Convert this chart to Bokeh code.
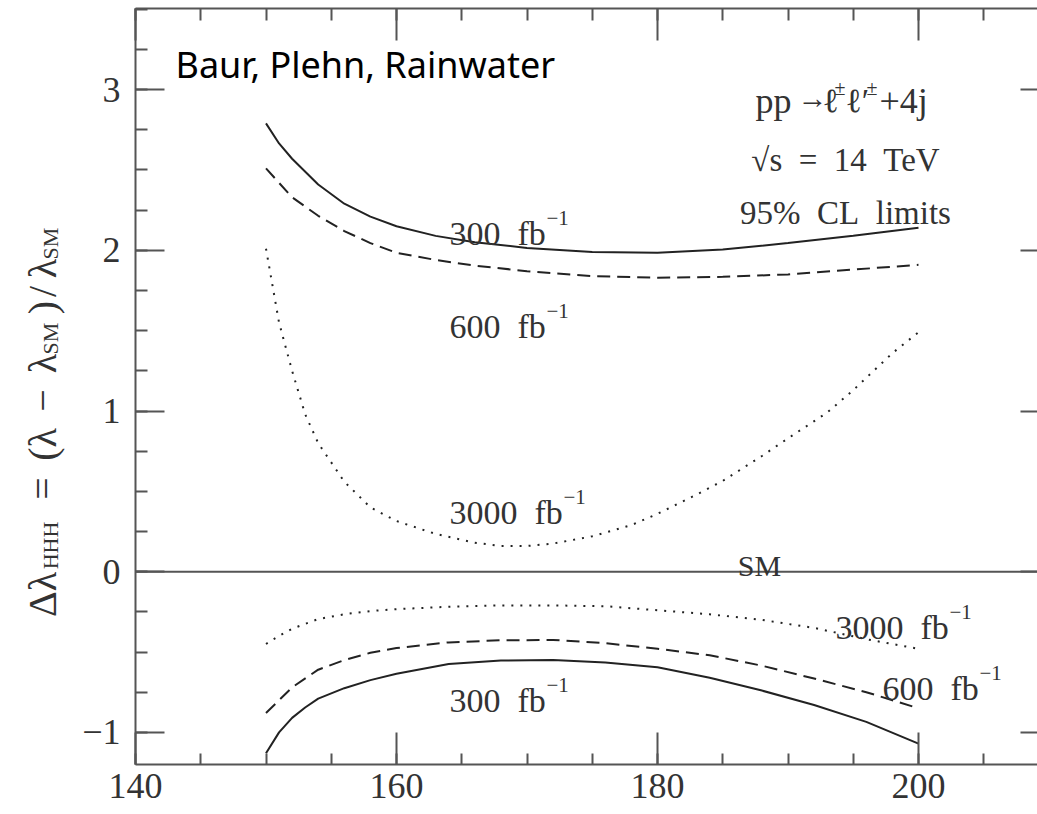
import math
from bokeh.plotting import figure
from bokeh.layouts import row
from bokeh.models import Range1d, LinearAxis, FixedTicker, Label, Span
from bokeh.core.properties import value
from bokeh.embed import file_html
from bokeh.resources import INLINE

# ---------------- data ----------------
x_300_up = [150, 151, 152, 154, 156, 158, 160, 163, 166, 170, 175, 180, 185, 190, 195, 200]
y_300_up = [2.79, 2.665, 2.57, 2.41, 2.29, 2.21, 2.15, 2.09, 2.05, 2.015, 1.99, 1.985, 2.005, 2.045, 2.09, 2.14]

x_600_up = [150, 151, 152, 154, 156, 158, 160, 163, 166, 170, 175, 180, 185, 190, 195, 200]
y_600_up = [2.51, 2.42, 2.33, 2.215, 2.12, 2.045, 1.985, 1.94, 1.905, 1.87, 1.84, 1.83, 1.835, 1.85, 1.88, 1.91]

x_3000_up = [150, 151, 152, 153, 154, 155, 156, 158, 160, 163, 166, 168, 170, 172, 175, 178, 180, 183, 185, 188, 190, 193, 195, 198, 200]
y_3000_up = [2.01, 1.55, 1.25, 0.98, 0.80, 0.68, 0.56, 0.40, 0.315, 0.235, 0.18, 0.16, 0.16, 0.175, 0.22, 0.29, 0.36, 0.48, 0.565, 0.72, 0.83, 0.99, 1.13, 1.36, 1.49]

x_300_lo = [150, 151, 152, 153, 154, 156, 158, 160, 164, 168, 172, 176, 180, 184, 188, 192, 196, 200]
y_300_lo = [-1.13, -1.0, -0.91, -0.845, -0.79, -0.725, -0.675, -0.635, -0.575, -0.553, -0.55, -0.565, -0.595, -0.66, -0.74, -0.83, -0.935, -1.07]

x_600_lo = [150, 151, 152, 154, 156, 158, 160, 164, 168, 172, 176, 180, 184, 188, 192, 196, 200]
y_600_lo = [-0.88, -0.80, -0.72, -0.61, -0.55, -0.505, -0.475, -0.44, -0.427, -0.425, -0.445, -0.48, -0.52, -0.585, -0.665, -0.75, -0.85]

x_3000_lo = [150, 151, 152, 154, 156, 158, 160, 164, 168, 172, 176, 180, 184, 188, 192, 196, 200]
y_3000_lo = [-0.45, -0.40, -0.355, -0.295, -0.265, -0.245, -0.233, -0.218, -0.21, -0.21, -0.215, -0.24, -0.265, -0.30, -0.35, -0.42, -0.48]

x_major_ticks = [140, 160, 180, 200]
x_minor_ticks = [140, 145, 150, 155, 160, 165, 170, 175, 180, 185, 190, 195, 200, 205, 210]
y_major_ticks = [-1, 0, 1, 2, 3]
y_minor_ticks = [-1.25, -1.0, -0.75, -0.5, -0.25, 0, 0.25, 0.5, 0.75, 1.0, 1.25, 1.5, 1.75, 2.0, 2.25, 2.5, 2.75, 3.0, 3.25, 3.5]
sm_level = 0

# ---------------- layout constants ----------------
LW = 75                    # width of the strip holding the rotated y title
FL, FT, FW, FH = 135, 8, 902, 756
FB = FT + FH
H = 814
AX = "#555555"
INK = "#222222"
TXT = "#333333"
SERIF = "Liberation Serif"

# ---------------- main figure ----------------
p = figure(frame_width=FW, frame_height=FH,
           x_range=Range1d(140, 140 + FW / 13.05), y_range=Range1d(-1.2, 3.505),
           output_backend="svg", toolbar_location=None,
           min_border_left=FL - LW, min_border_right=0, min_border_top=FT, min_border_bottom=H - FB)
p.grid.visible = False
p.outline_line_color = None

xt = FixedTicker(ticks=x_major_ticks, minor_ticks=x_minor_ticks)
yt = FixedTicker(ticks=y_major_ticks, minor_ticks=y_minor_ticks)

def style_axis(ax, tick_in, minor_in, labels=True, line=True):
    ax.major_tick_in = tick_in
    ax.major_tick_out = 0
    ax.minor_tick_in = minor_in
    ax.minor_tick_out = 0
    ax.major_tick_line_color = AX
    ax.major_tick_line_width = 2
    ax.minor_tick_line_color = AX if minor_in > 0 else None
    ax.minor_tick_line_width = 2
    ax.axis_line_color = AX if line else None
    ax.axis_line_width = 2
    if labels:
        ax.major_label_text_font = SERIF
        ax.major_label_text_font_size = "36px"
        ax.major_label_text_color = TXT
    else:
        ax.major_label_text_font_size = "1px"
        ax.major_label_text_color = None
        ax.major_label_standoff = 0

bx = p.xaxis[0]
bx.ticker = xt
style_axis(bx, 32, 11)
bx.major_label_standoff = 9

ly = p.yaxis[0]
ly.ticker = yt
style_axis(ly, 29, 12)
ly.major_label_standoff = 15
ly.major_label_overrides = {-1: "\u22121"}

tx = LinearAxis(ticker=xt)
style_axis(tx, 32, 12, labels=False)
p.add_layout(tx, "above")

ry = LinearAxis(ticker=yt)
style_axis(ry, 17, 0, labels=False, line=False)
p.add_layout(ry, "right")

# SM line
p.add_layout(Span(location=sm_level, dimension="width", line_color=AX, line_width=2))

# curves
p.line(x_300_up, y_300_up, line_color=INK, line_width=2)
p.line(x_600_up, y_600_up, line_color=INK, line_width=2, line_dash="13 7")
p.line(x_3000_up, y_3000_up, line_color=INK, line_width=2, line_dash="2 7")
p.line(x_300_lo, y_300_lo, line_color=INK, line_width=2)
p.line(x_600_lo, y_600_lo, line_color=INK, line_width=2, line_dash="13 7")
p.line(x_3000_lo, y_3000_lo, line_color=INK, line_width=2, line_dash="2 7")

# ---------------- texts in the plot ----------------
def lab(px, py, text, size, align="left", font=SERIF, color=TXT):
    p.add_layout(Label(x=px - FL, y=FB - py, x_units="screen", y_units="screen",
                       text=text, text_font=font, text_font_size=f"{size}px",
                       text_align=align, text_baseline="alphabetic", text_color=color))

ES = "\u2002"
def fb(px, py, num, sup_dx):
    lab(px, py, f"{num}{ES}fb", 34)
    lab(px + sup_dx, py - 16, "\u22121", 21)

fb(449, 233, "300", 97)
fb(449, 326, "600", 97)
fb(449, 512, "3000", 114)
fb(835, 627, "3000", 114)
fb(882, 688, "600", 97)
fb(449, 700, "300", 97)
lab(759, 565, "SM", 30, align="center")

# process text  pp → ℓ±ℓ′± + 4j
lab(755, 100, "pp", 36)
lab(797, 97, "\u2192", 30)
lab(822, 100, "\u2113", 34)
lab(834, 87, "\u00b1", 20)
lab(845, 100, "\u2113\u2032", 34)
lab(866, 87, "\u00b1", 20)
lab(879, 100, "+4j", 36)
lab(845, 159, f"\u221as{ES}={ES}14{ES}TeV", 33, align="center")
lab(845, 212, f"95%{ES}CL{ES}limits", 33, align="center")

lab(175, 64, "Baur, Plehn, Rainwater", 36, font="Noto Sans", color="black")

# ---------------- strip with the rotated y title ----------------
lf = figure(frame_width=LW, frame_height=H, x_range=Range1d(0, LW), y_range=Range1d(0, H),
            output_backend="svg", toolbar_location=None, min_border=0,
            x_axis_location=None, y_axis_location=None)
lf.outline_line_color = None
lf.grid.visible = False

R = math.pi / 2
MB, SB = 42, 50
# Δλ_HHH = (λ − λ_SM)/λ_SM, pieces written bottom to top (centre positions)
for text, size, centre, sub in [
    ("\u0394\u03bb", 40, 586, False),
    ("HHH", 22, 537, True),
    ("=", 40, 480, False),
    ("(\u03bb", 40, 436, False),
    ("\u2212", 40, 392, False),
    ("\u03bb", 40, 355, False),
    ("SM", 22, 330, True),
    (")", 40, 299, False),
    ("/", 40, 283, False),
    ("\u03bb", 40, 260, False),
    ("SM", 22, 235, True),
]:
    lf.text(x=[SB if sub else MB], y=[H - centre], text=[text], angle=R,
            text_font=value(SERIF), text_font_size=f"{size}px",
            text_align="center", text_baseline="alphabetic", text_color=TXT)

layout = row(lf, p)
open("out.html", "w").write(file_html(layout, INLINE))
